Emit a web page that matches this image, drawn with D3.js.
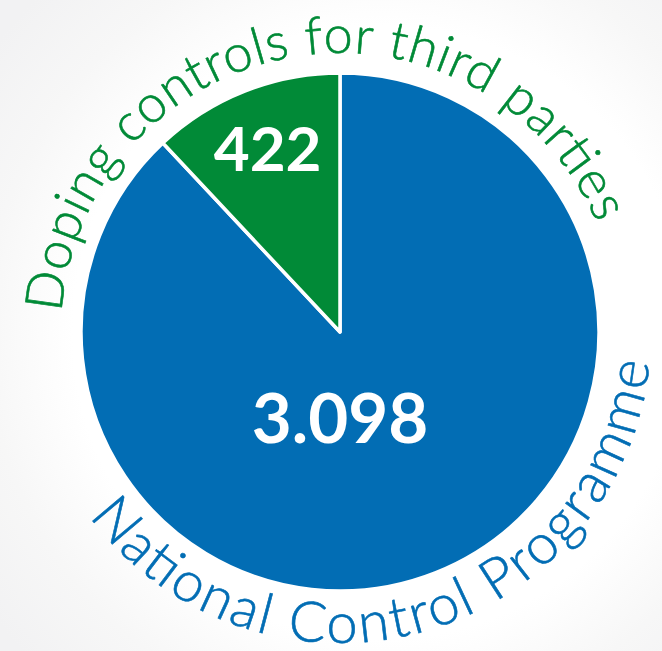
<!DOCTYPE html>
<html>
<head>
<meta charset="utf-8">
<script src="https://cdn.jsdelivr.net/npm/d3@7"></script>
<style>
  html, body { margin: 0; padding: 0; background: #fff; }
  svg { display: block; }
</style>
</head>
<body>
<div id="chart"></div>
<script>
// data
const categories = ["National Control Programme", "Doping controls for third parties"];
const values = [3098, 422];
const valueLabels = ["3.098", "422"];
const colors = ["#026db4", "#018a37"];

// const
const width = 662;
const height = 651;
const cx = 340, cy = 332;
const radius = 259;
const rad = deg => deg * Math.PI / 180;

const svg = d3.select('#chart')
    .append('svg')
    .attr('width', width)
    .attr('height', height)
    .attr('style', 'font-family: Lato, Roboto, "Open Sans", sans-serif');

// soft background
const defs = svg.append('defs');
const bg = defs.append('radialGradient')
    .attr('id', 'bg')
    .attr('gradientUnits', 'userSpaceOnUse')
    .attr('cx', cx + 40).attr('cy', cy).attr('r', 480);
bg.append('stop').attr('offset', 0.64).attr('stop-color', '#ffffff');
bg.append('stop').attr('offset', 0.82).attr('stop-color', '#f7f7f7');
bg.append('stop').attr('offset', 1).attr('stop-color', '#f2f2f3');
svg.append('rect').attr('width', width).attr('height', height).attr('fill', 'url(#bg)');

const g = svg.append('g').attr('transform', `translate(${cx},${cy})`);

// pie, blue slice starts at 12 o'clock, green fills the rest
const pie = d3.pie().sort(null).value(d => d)(values);
const arc = d3.arc().innerRadius(0).outerRadius(radius);

g.selectAll('path.slice')
    .data(pie)
    .join('path')
    .attr('class', 'slice')
    .attr('d', arc)
    .attr('fill', (d, i) => colors[i])
    .attr('stroke', '#fff')
    .attr('stroke-width', 3.5)
    .attr('stroke-linejoin', 'round');

// value labels
g.append('text')
    .attr('x', 0)
    .attr('y', 111)
    .attr('text-anchor', 'middle')
    .attr('fill', '#fff')
    .attr('font-weight', 700)
    .attr('font-size', 69)
    .text(valueLabels[0]);

const c1 = d3.arc().innerRadius(0).outerRadius(radius * 1.52).centroid(pie[1]);
g.append('text')
    .attr('x', c1[0])
    .attr('y', c1[1] + 22)
    .attr('text-anchor', 'middle')
    .attr('fill', '#fff')
    .attr('font-weight', 700)
    .attr('font-size', 62)
    .text(valueLabels[1]);

// curved category names around the pie
function arcPath(r, a0, a1, ccw) {
  const p = d3.path();
  p.arc(0, 0, r, rad(a0 - 90), rad(a1 - 90), ccw);
  return p.toString();
}

const curved = [
  { id: 'top', r: 279, a0: -86, a1: 67, ccw: false, size: 52, text: categories[1], color: colors[1] },
  { id: 'bottom', r: 311, a0: 233.7, a1: 95.6, ccw: true, size: 56, text: categories[0], color: colors[0] }
];

curved.forEach(c => {
  defs.append('path')
      .attr('id', 'lbl-' + c.id)
      .attr('d', arcPath(c.r, c.a0, c.a1, c.ccw));
  const len = c.r * rad(Math.abs(c.a1 - c.a0));
  g.append('text')
      .attr('fill', c.color)
      .attr('stroke', c.color)
      .attr('stroke-width', 0.6)
      .attr('font-size', c.size)
      .attr('font-weight', 300)
    .append('textPath')
      .attr('href', '#lbl-' + c.id)
      .attr('textLength', len)
      .attr('lengthAdjust', 'spacing')
      .text(c.text);
});
</script>
</body>
</html>
